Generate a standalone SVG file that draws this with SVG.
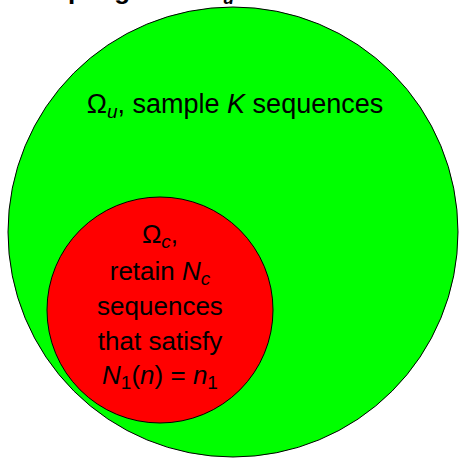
<svg xmlns="http://www.w3.org/2000/svg" width="459" height="459" viewBox="0 0 459 459">
<style>
.t{font-family:"Liberation Sans",Arial,sans-serif;font-size:26px;fill:#000;text-anchor:middle}
.big{font-size:27px}
.i{font-style:italic}
.s{font-size:19px}
.title{font-family:"Liberation Sans",Arial,sans-serif;font-size:26px;font-weight:bold;fill:#000}
</style>
<rect width="459" height="459" fill="#fff"/>
<text class="title" x="13" y="-1">Sampling from Ω<tspan font-size="18" font-style="italic" dy="5">u</tspan></text>
<g id="omega-u">
<circle cx="233" cy="232" r="225" fill="#00ff00" stroke="#000" stroke-width="1"/>
<text class="t big" x="235" y="113">Ω<tspan class="s i" dy="5">u</tspan><tspan dy="-5">, sample </tspan><tspan class="i">K</tspan> sequences</text>
</g>
<g id="omega-c">
<circle cx="160" cy="310" r="113" fill="#ff0000" stroke="#000" stroke-width="1"/>
<text class="t" x="160" y="243">Ω<tspan class="s i" dy="5">c</tspan><tspan dy="-5">,</tspan></text>
<text class="t" x="160" y="280">retain <tspan class="i">N</tspan><tspan class="s i" dy="5">c</tspan></text>
<text class="t" x="160" y="315">sequences</text>
<text class="t" x="160" y="350">that satisfy</text>
<text class="t" x="160" y="384"><tspan class="i">N</tspan><tspan class="s" dy="5">1</tspan><tspan dy="-5">(</tspan><tspan class="i">n</tspan>) = <tspan class="i">n</tspan><tspan class="s" dy="5">1</tspan></text>
</g>
</svg>
